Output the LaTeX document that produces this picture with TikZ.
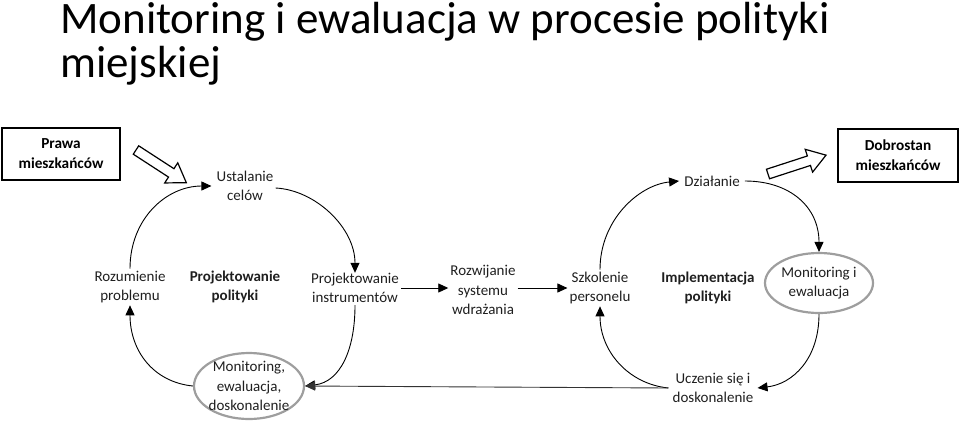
\documentclass[tikz,border=0pt]{standalone}
\usepackage{fontspec}
\setmainfont{Carlito}
\usetikzlibrary{arrows.meta,shapes.geometric}
\tikzset{
  txt/.style={align=center,font=\fontsize{15}{19.5}\selectfont,inner sep=2pt,text=black!88},
  btxt/.style={txt,font=\fontsize{15}{19.5}\selectfont\bfseries},
  boxnode/.style={draw,line width=1.3pt,align=center,font=\fontsize{15.3}{20}\selectfont\bfseries,minimum width=118pt,minimum height=52pt,inner sep=0pt},
  ell/.style={ellipse,draw=black!38,line width=2.2pt,inner sep=0pt},
  arr/.style={line width=0.9pt,-{Triangle[length=10pt,width=9pt]}},
  blockarr/.style={draw,line width=1.2pt,fill=white},
  titlefont/.style={font=\fontsize{45}{44}\selectfont,inner sep=0pt}
}
\begin{document}
\begin{tikzpicture}[x=1pt,y=-1pt]
\useasboundingbox (0,0) rectangle (960,426);
% title
\node[titlefont,anchor=base west] (t1) at (60,33) {Monitoring i ewaluacja w procesie polityki};
\node[titlefont,anchor=base west] (t2) at (60,77) {miejskiej};
% boxes
\node[boxnode] (pra) at (61,154) {Prawa\\mieszkańców};
\node[boxnode,minimum width=120pt,minimum height=53pt] (dob) at (898,155.5) {Dobrostan\\mieszkańców};
% text nodes
\node[txt] (ust) at (245,186) {Ustalanie\\celów};
\node[txt] (roz) at (130,287) {Rozumienie\\problemu};
\node[btxt] (pp) at (235,287) {Projektowanie\\polityki};
\node[txt] (pi) at (355,288) {Projektowanie\\instrumentów};
\node[txt] (rsw) at (483,290) {Rozwijanie\\systemu\\wdrażania};
\node[txt] (szk) at (600,288) {Szkolenie\\personelu};
\node[btxt] (ip) at (708,288) {Implementacja\\polityki};
\node[txt] (dz) at (712,181) {Działanie};
\node[txt] (ucz) at (713,388) {Uczenie się i\\doskonalenie};
\node[ell,minimum width=108pt,minimum height=60pt,label={[txt]center:{Monitoring i\\ewaluacja}}] (mie) at (819,283) {};
\node[ell,minimum width=110pt,minimum height=66pt,label={[txt]center:{Monitoring,\\ewaluacja,\\doskonalenie}}] (mon) at (249,386) {};
% block arrows
\begin{scope}[shift={(136,150)},rotate=-33]
\draw[blockarr] (0,-5) -- (42,-5) -- (42,-12) -- (60,0) -- (42,12) -- (42,5) -- (0,5) -- cycle;
\end{scope}
\begin{scope}[shift={(768,174)},rotate=18]
\draw[blockarr] (0,-5) -- (43,-5) -- (43,-12) -- (61,0) -- (43,12) -- (43,5) -- (0,5) -- cycle;
\end{scope}
% left cycle
\draw[arr] (roz.north) .. controls +(0,-50) and +(-45,0) .. ([xshift=-3pt]ust.west);
\draw[arr] ([yshift=-2pt]ust.east) .. controls +(40,2) and +(0,-45) .. ([yshift=-2pt]pi.north);
\draw[arr] (pi.south) .. controls +(0,45) and +(35,-4) .. (mon.east);
\draw[arr] (mon.west) .. controls +(-40,-4) and +(0,45) .. (roz.south);
\draw[arr] (pi.east) -- (rsw.west |- pi.east);
\draw[arr] (rsw.east |- pi.east) -- (szk.west |- pi.east);
% right cycle
\draw[arr] (szk.north) .. controls +(0,-50) and +(-40,4) .. ([xshift=-3pt]dz.west);
\draw[arr] ([xshift=3pt]dz.east) .. controls +(45,0) and +(0,-45) .. (mie.north);
\draw[arr] (mie.south) .. controls +(0,45) and +(35,-4) .. ([xshift=2pt]ucz.east);
\draw[arr] ([xshift=-2pt]ucz.west) .. controls +(-40,-4) and +(0,45) .. (szk.south);
\draw[arr,black!80] ([xshift=-2pt]ucz.west) -- (mon.east);
\end{tikzpicture}
\end{document}
